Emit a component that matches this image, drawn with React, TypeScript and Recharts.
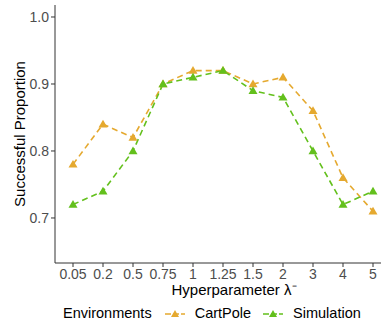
import { LineChart, Line, XAxis, YAxis, Label } from 'recharts';

const lambdas = ['0.05', '0.2', '0.5', '0.75', '1', '1.25', '1.5', '2', '3', '4', '5'];
const cartPole = [0.78, 0.84, 0.82, 0.9, 0.92, 0.92, 0.9, 0.91, 0.86, 0.76, 0.71];
const simulation = [0.72, 0.74, 0.8, 0.9, 0.91, 0.92, 0.89, 0.88, 0.8, 0.72, 0.74];
const yTicks = [0.7, 0.8, 0.9, 1.0];

const ORANGE = '#E5A92F';
const GREEN = '#63C01C';
const FONT = '"Liberation Sans", Arial, sans-serif';

const data = lambdas.map((l, i) => ({ lambda: l, cartPole: cartPole[i], simulation: simulation[i] }));

const Triangle = ({ cx, cy, fill }: { cx?: number; cy?: number; fill: string }) => {
  if (cx == null || cy == null) return null;
  return <path d={`M${cx},${cy - 4.5} L${cx + 4.5},${cy + 3.2} L${cx - 4.5},${cy + 3.2} Z`} fill={fill} />;
};

const LegendKey = ({ color }: { color: string }) => (
  <svg width={20} height={12} style={{ display: 'block' }}>
    <line x1={0} y1={7} x2={20} y2={7} stroke={color} strokeWidth={1.6} strokeDasharray="6 2" />
    <path d="M10,3 L14,10 L6,10 Z" fill={color} />
  </svg>
);

const series = [
  { key: 'cartPole', name: 'CartPole', color: ORANGE },
  { key: 'simulation', name: 'Simulation', color: GREEN },
];

export default function App() {
  return (
    <div style={{ position: 'fixed', left: 0, top: 0, width: 381, height: 324, overflow: 'hidden', background: '#fff' }}>
      <LineChart width={400} height={324} data={data} margin={{ top: 5, right: 9, bottom: 26, left: 0 }}>
        <XAxis
          dataKey="lambda"
          padding={{ left: 18, right: 18 }}
          height={35}
          tick={{ fill: '#4D4D4D', fontSize: 14, fontFamily: FONT }}
          tickLine={{ stroke: '#333' }}
          tickSize={4}
          axisLine={{ stroke: '#333' }}
          interval={0}
        >
          <Label
            value="Hyperparameter λ⁻"
            position="insideBottom"
            offset={3}
            dx={11}
            style={{ fill: '#000', fontSize: 15, fontFamily: FONT }}
          />
        </XAxis>
        <YAxis
          width={55}
          domain={[0.6328, 1.0179]}
          ticks={yTicks}
          allowDataOverflow
          tickFormatter={(v: number) => v.toFixed(1)}
          tick={{ fill: '#4D4D4D', fontSize: 14, fontFamily: FONT }}
          tickLine={{ stroke: '#333' }}
          tickSize={4}
          axisLine={{ stroke: '#333' }}
        >
          <Label
            value="Successful Proportion"
            angle={-90}
            position="insideLeft"
            offset={20}
            style={{ textAnchor: 'middle', fill: '#000', fontSize: 15, fontFamily: FONT }}
          />
        </YAxis>
        {series.map((s) => (
          <Line
            key={s.key}
            dataKey={s.key}
            name={s.name}
            stroke={s.color}
            strokeWidth={1.6}
            strokeDasharray="6 4"
            dot={<Triangle fill={s.color} />}
            isAnimationActive={false}
          />
        ))}
      </LineChart>
      <div
        style={{
          position: 'absolute',
          left: 63,
          top: 300,
          height: 26,
          display: 'flex',
          alignItems: 'center',
          fontFamily: FONT,
          fontSize: 14.5,
          color: '#000',
        }}
      >
        <span style={{ marginRight: 13 }}>Environments</span>
        {series.map((s) => (
          <div key={s.key} style={{ display: 'flex', alignItems: 'center', marginRight: 12 }}>
            <LegendKey color={s.color} />
            <span style={{ marginLeft: 10 }}>{s.name}</span>
          </div>
        ))}
      </div>
    </div>
  );
}
